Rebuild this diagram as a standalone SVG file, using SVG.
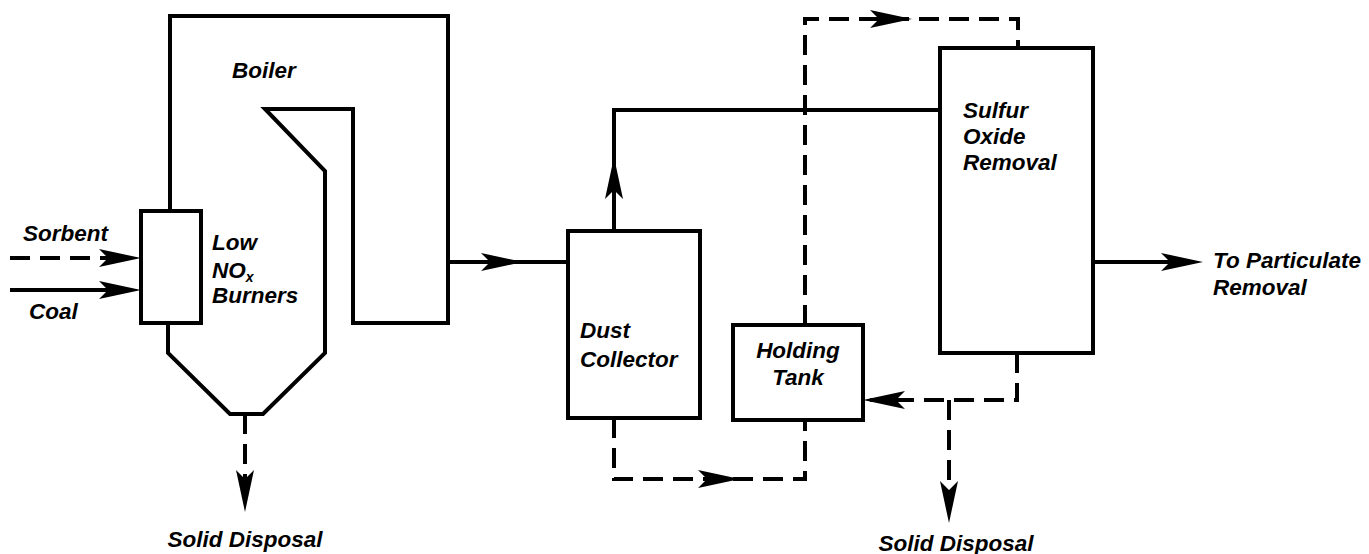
<svg xmlns="http://www.w3.org/2000/svg" xmlns:xlink="http://www.w3.org/1999/xlink" width="1369" height="554" viewBox="0 0 1369 554">
<style>
  .shape { fill: none; stroke: #000; stroke-width: 4; stroke-linejoin: miter; }
  .solid { fill: none; stroke: #000; stroke-width: 4; }
  .dash { fill: none; stroke: #000; stroke-width: 4; stroke-dasharray: 20 10; }
  .lbl { font-family: "Liberation Sans", Arial, sans-serif; font-weight: bold; font-style: italic; font-size: 22.5px; fill: #000; }
  .sub { font-size: 14px; }
</style>
<defs>
  <path id="ah" d="M0 0 L-42 -9 L-33 0 L-42 9 Z" fill="#000"/>
</defs>
<rect width="1369" height="554" fill="#fff"/>

<g id="boiler">
  <path class="shape" d="M170 211 V16 H448 V323 H353 V109 H265 L325 171 V353 L263 414 H230 L168 353 V323"/>
  <text class="lbl" x="232" y="78">Boiler</text>
</g>

<g id="burners">
  <rect class="shape" x="141" y="211" width="60" height="112"/>
  <text class="lbl" x="212" y="250">Low</text>
  <text class="lbl" x="212" y="278">NO<tspan class="sub" dy="4">x</tspan></text>
  <text class="lbl" x="212" y="303">Burners</text>
</g>

<g id="dust-collector">
  <rect class="shape" x="568" y="231" width="132" height="187"/>
  <text class="lbl" x="580" y="338">Dust</text>
  <text class="lbl" x="580" y="367">Collector</text>
</g>

<g id="holding-tank">
  <rect class="shape" x="733" y="325" width="130" height="95"/>
  <text class="lbl" x="798" y="358" text-anchor="middle">Holding</text>
  <text class="lbl" x="798" y="385" text-anchor="middle">Tank</text>
</g>

<g id="sulfur-removal">
  <rect class="shape" x="940" y="48" width="153" height="305"/>
  <text class="lbl" x="963" y="118">Sulfur</text>
  <text class="lbl" x="963" y="144">Oxide</text>
  <text class="lbl" x="963" y="170">Removal</text>
</g>

<g id="labels">
  <text class="lbl" x="23" y="241">Sorbent</text>
  <text class="lbl" x="29" y="319">Coal</text>
  <text class="lbl" x="245" y="547" text-anchor="middle">Solid Disposal</text>
  <text class="lbl" x="956" y="551" text-anchor="middle">Solid Disposal</text>
  <text class="lbl" x="1213" y="268">To Particulate</text>
  <text class="lbl" x="1213" y="295">Removal</text>
</g>

<g id="connectors">
  <path class="dash" d="M10 258 H110"/>
  <path class="solid" d="M10 290 H110"/>
  <path class="dash" d="M245 414 V480"/>
  <path class="solid" d="M448 262 H568"/>
  <path class="solid" d="M614 231 V110 H940"/>
  <path class="dash" d="M805 325 V19 H1018 V48"/>
  <path class="dash" d="M614 418 V479 H805 V420"/>
  <path class="dash" d="M1017 353 V400 H870"/>
  <path class="dash" d="M949 400 V490"/>
  <path class="solid" d="M1093 262 H1170"/>

  <use xlink:href="#ah" transform="translate(141 258)"/>
  <use xlink:href="#ah" transform="translate(141 290)"/>
  <use xlink:href="#ah" transform="translate(245 512) rotate(90)"/>
  <use xlink:href="#ah" transform="translate(523 262)"/>
  <use xlink:href="#ah" transform="translate(614 157) rotate(-90)"/>
  <use xlink:href="#ah" transform="translate(912 19)"/>
  <use xlink:href="#ah" transform="translate(740 479)"/>
  <use xlink:href="#ah" transform="translate(863 400) rotate(180)"/>
  <use xlink:href="#ah" transform="translate(949 523) rotate(90)"/>
  <use xlink:href="#ah" transform="translate(1203 262)"/>
</g>
</svg>
